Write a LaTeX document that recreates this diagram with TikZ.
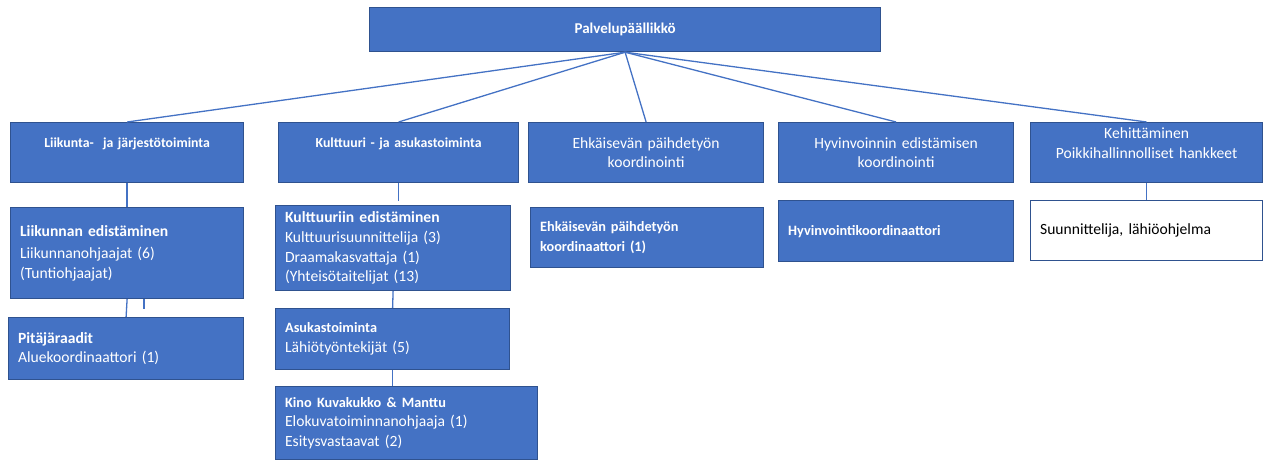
\documentclass[tikz,border=0pt]{standalone}
\usepackage{fontspec}
\setmainfont{Carlito}
\definecolor{fillblue}{HTML}{4472C4}
\definecolor{edgeblue}{HTML}{2F528F}
\newcommand\smallhead{\fontsize{14.3}{19.5}\selectfont\bfseries}
\begin{document}
\begin{tikzpicture}[x=1pt,y=-1pt,
  box/.style={draw=edgeblue, fill=fillblue, line width=1.2pt, text=white,
    anchor=north west, inner xsep=9.5pt, inner ysep=0pt, align=left,
    font=\fontsize{15.6}{19.6}\selectfont},
  headbox/.style={box, align=center, inner xsep=4pt},
  smallbold/.style={font=\fontsize{14.3}{19.5}\selectfont\bfseries},
  levelbold/.style={font=\fontsize{13.8}{19}\selectfont\bfseries},
  conn/.style={draw=fillblue, line width=1.3pt}
]
\useasboundingbox (0,0) rectangle (1268,460);
% top
\node[headbox, font=\fontsize{15}{19}\selectfont\bfseries, minimum width=511pt, minimum height=44pt, text width=500pt] (top) at (369,7) {Palvelupäällikkö};
% level 2
\node[headbox, levelbold, minimum width=233pt, minimum height=60pt, text width=225pt] (l1) at (10,122) {Liikunta-\ \ ja järjestötoiminta\\\mbox{}};
\node[headbox, levelbold, minimum width=240pt, minimum height=60pt, text width=232pt] (l2) at (278,122) {Kulttuuri - ja asukastoiminta\\\mbox{}};
\node[headbox, minimum width=235pt, minimum height=60pt, text width=227pt] (l3) at (528,122) {Ehkäisevän päihdetyön\\koordinointi};
\node[headbox, minimum width=235pt, minimum height=60pt, text width=227pt] (l4) at (778,122) {Hyvinvoinnin edistämisen\\koordinointi};
\node[headbox, minimum width=232pt, minimum height=60pt, text width=224pt] (l5) at (1030,122) {Kehittäminen\\Poikkihallinnolliset hankkeet\\\mbox{}};
% level 3
\node[box, minimum height=91pt, text width=214pt] (liik) at (10,207) {{\bfseries Liikunnan edistäminen}\\[2.5pt]Liikunnanohjaajat (6)\\(Tuntiohjaajat)};
\node[box, minimum height=62pt, text width=216pt] (pit) at (8,317) {{\bfseries Pitäjäraadit}\\Aluekoordinaattori (1)};
\node[box, minimum height=85pt, text width=216pt] (kult) at (275,205) {{\bfseries Kulttuuriin edistäminen}\\Kulttuurisuunnittelija (3)\\Draamakasvattaja (1)\\(Yhteisötaitelijat (13)};
\node[box, minimum height=61pt, text width=215pt] (asu) at (275,308) {{\smallhead Asukastoiminta}\\Lähiötyöntekijät (5)};
\node[box, minimum height=73pt, text width=243pt] (kino) at (275,386) {{\smallhead Kino Kuvakukko \& Manttu}\\Elokuvatoiminnanohjaaja (1)\\Esitysvastaavat (2)};
\node[box, smallbold, minimum height=60pt, text width=214pt] (ehk) at (530,207) {Ehkäisevän päihdetyön\\koordinaattori (1)};
\node[box, smallbold, minimum height=61pt, text width=216pt] (hyv) at (778,200) {Hyvinvointikoordinaattori};
\node[box, fill=white, text=black, minimum height=60pt, text width=213pt] (suun) at (1030,200) {Suunnittelija, lähiöohjelma};
% connectors
\draw[conn] (top.south) -- (l1.north);
\draw[conn] (top.south) -- (l2.north);
\draw[conn] (top.south) -- (l3.north);
\draw[conn] (top.south) -- (l4.north);
\draw[conn] (top.south) -- (l5.north);
\draw[conn] (l1.south) -- (liik.north);
\coordinate (l2end) at ([yshift=-18pt]l2.south);
\draw[conn] (l2.south) -- (l2end);
\draw[conn] (liik.south) -- (pit.north);
\coordinate (stubtop) at ([xshift=17pt]liik.south);
\coordinate (stubend) at ([xshift=17pt,yshift=-10pt]liik.south);
\draw[conn] (stubtop) -- (stubend);
\draw[conn] (kult.south) -- (asu.north);
\draw[conn] (asu.south) -- (asu.south |- kino.north);
\draw[conn] (l5.south) -- (suun.north);
\end{tikzpicture}
\end{document}
